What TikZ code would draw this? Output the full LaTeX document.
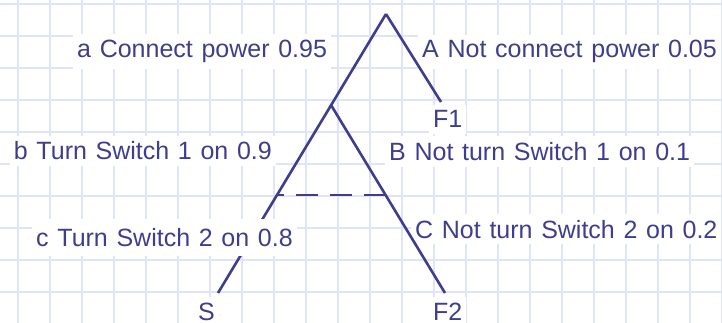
\documentclass[tikz,border=0pt]{standalone}
\usepackage{fontspec}
\setmainfont[WordSpace=1.25]{Liberation Sans}
\definecolor{ink}{RGB}{62,62,140}
\definecolor{gridc}{RGB}{224,228,250}
\begin{document}
\begin{tikzpicture}[x=1pt,y=-1pt,
  lbl/.style={font=\fontsize{25}{30}\selectfont, text=ink, fill=white,
    inner xsep=4pt, inner ysep=6pt, anchor=base west},
  branch/.style={draw=ink, line width=2.6pt},
  gridline/.style={draw=gridc, line width=2pt}]
\useasboundingbox (0,0) rectangle (722,323);
\fill[white] (0,0) rectangle (722,323);
% grid
\foreach \i in {0,...,22} {\draw[gridline] (18+32*\i,0) -- (18+32*\i,323);}
\foreach \j in {0,...,9} {\draw[gridline] (0,4+32*\j) -- (722,4+32*\j);}
% tree points
\coordinate (apex) at (386,14);
\coordinate (f1end) at (441,102);
\coordinate (junc) at (331,105);
\coordinate (send) at (218,293);
\coordinate (f2end) at (445,293);
\coordinate (dl) at (277,195);
\coordinate (dr) at (385.6,195);
% main left branch (broken by label c)
\draw[branch] (apex) -- (send);
% labels
\node[lbl] (la) at (73,57.5) {a Connect power 0.95};
\node[lbl] (lA) at (418,58) {A Not connect power 0.05};
\node[lbl] (lF1) at (429,128) {F1};
\node[lbl] (lb) at (9.7,160) {b Turn Switch 1 on 0.9};
\node[lbl] (lB) at (385,160.5) {B Not turn Switch 1 on 0.1};
\node[lbl, inner ysep=9pt] (lc) at (32,246.5) {c Turn Switch 2 on 0.8};
\node[lbl] (lC) at (411,238) {C Not turn Switch 2 on 0.2};
\node[lbl] (lF2) at (429,320.5) {F2};
\node[lbl] (lS) at (194,320.5) {S};
% other branches
\draw[branch] (apex) -- (f1end);
\draw[branch] (junc) -- (f2end);
\draw[branch, dash pattern=on 22pt off 12pt] (dr) -- (dl);
\end{tikzpicture}
\end{document}
